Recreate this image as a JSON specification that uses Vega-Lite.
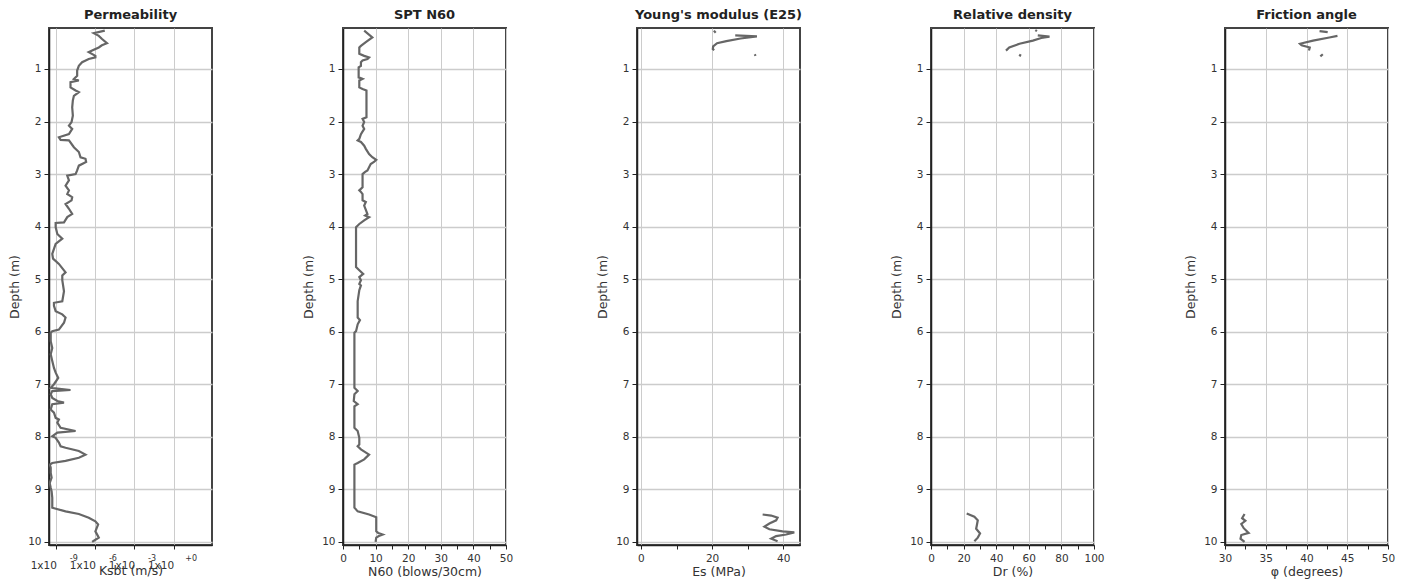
{
  "$schema": "https://vega.github.io/schema/vega-lite/v6.json",
  "padding": {"left": 7, "top": 8, "right": 5, "bottom": 5},
  "background": "white",
  "datasets": {
    "perm": [
      {"depth":0.27,"k":5.25e-6},{"depth":0.32,"k":7.59e-7},{"depth":0.37,"k":1.82e-6},{"depth":0.43,"k":3.24e-6},{"depth":0.51,"k":7.76e-6},{"depth":0.55,"k":3.16e-6},{"depth":0.59,"k":1.82e-6},{"depth":0.65,"k":5.62e-7},{"depth":0.68,"k":3.09e-7},{"depth":0.75,"k":1.0e-6},{"depth":0.78,"k":1.0e-6},{"depth":0.81,"k":3.09e-7},{"depth":0.87,"k":9.55e-8},{"depth":0.94,"k":5.37e-8},{"depth":1.03,"k":3.98e-8},{"depth":1.13,"k":3.98e-8},{"depth":1.19,"k":2.24e-8},{"depth":1.22,"k":5.37e-8},{"depth":1.25,"k":1.23e-8},{"depth":1.35,"k":1.23e-8},{"depth":1.41,"k":3.02e-8},{"depth":1.44,"k":5.37e-8},{"depth":1.51,"k":2.24e-8},{"depth":1.60,"k":1.86e-8},{"depth":1.73,"k":1.66e-8},{"depth":1.89,"k":1.86e-8},{"depth":2.01,"k":1.48e-8},{"depth":2.08,"k":9.33e-9},{"depth":2.14,"k":1.66e-8},{"depth":2.24,"k":9.33e-9},{"depth":2.30,"k":1.58e-9},{"depth":2.35,"k":2.14e-9},{"depth":2.36,"k":9.33e-9},{"depth":2.49,"k":2.24e-8},{"depth":2.58,"k":5.37e-8},{"depth":2.68,"k":7.24e-8},{"depth":2.71,"k":1.74e-7},{"depth":2.77,"k":1.95e-7},{"depth":2.84,"k":5.37e-8},{"depth":2.93,"k":3.98e-8},{"depth":3.00,"k":3.02e-8},{"depth":3.03,"k":6.92e-9},{"depth":3.12,"k":9.33e-9},{"depth":3.22,"k":5.13e-9},{"depth":3.31,"k":9.33e-9},{"depth":3.38,"k":6.92e-9},{"depth":3.44,"k":1.66e-8},{"depth":3.50,"k":1.48e-8},{"depth":3.57,"k":5.13e-9},{"depth":3.66,"k":9.33e-9},{"depth":3.76,"k":1.66e-8},{"depth":3.82,"k":6.92e-9},{"depth":3.92,"k":3.89e-9},{"depth":3.93,"k":8.91e-10},{"depth":4.01,"k":8.91e-10},{"depth":4.14,"k":1.20e-9},{"depth":4.23,"k":2.88e-9},{"depth":4.33,"k":8.91e-10},{"depth":4.52,"k":4.90e-10},{"depth":4.61,"k":5.62e-10},{"depth":4.71,"k":1.58e-9},{"depth":4.87,"k":5.13e-9},{"depth":4.93,"k":2.88e-9},{"depth":5.02,"k":2.88e-9},{"depth":5.23,"k":3.89e-9},{"depth":5.42,"k":2.88e-9},{"depth":5.45,"k":6.61e-10},{"depth":5.51,"k":6.61e-10},{"depth":5.61,"k":8.91e-10},{"depth":5.67,"k":2.88e-9},{"depth":5.73,"k":5.13e-9},{"depth":5.83,"k":3.89e-9},{"depth":5.96,"k":1.58e-9},{"depth":5.99,"k":4.90e-10},{"depth":6.02,"k":3.72e-10},{"depth":6.18,"k":3.72e-10},{"depth":6.31,"k":4.90e-10},{"depth":6.43,"k":3.72e-10},{"depth":6.56,"k":4.90e-10},{"depth":6.69,"k":6.61e-10},{"depth":6.78,"k":8.91e-10},{"depth":6.88,"k":1.41e-9},{"depth":7.00,"k":6.61e-10},{"depth":7.07,"k":3.72e-10},{"depth":7.11,"k":1.23e-8},{"depth":7.13,"k":4.90e-10},{"depth":7.19,"k":3.72e-10},{"depth":7.26,"k":4.90e-10},{"depth":7.32,"k":1.20e-9},{"depth":7.35,"k":3.89e-9},{"depth":7.38,"k":4.90e-10},{"depth":7.48,"k":3.72e-10},{"depth":7.54,"k":6.61e-10},{"depth":7.64,"k":8.91e-10},{"depth":7.67,"k":1.58e-9},{"depth":7.73,"k":1.20e-9},{"depth":7.83,"k":2.14e-9},{"depth":7.89,"k":3.02e-8},{"depth":7.92,"k":1.20e-9},{"depth":7.99,"k":4.90e-10},{"depth":8.02,"k":8.91e-10},{"depth":8.11,"k":1.58e-9},{"depth":8.18,"k":2.14e-9},{"depth":8.21,"k":5.13e-9},{"depth":8.27,"k":5.37e-8},{"depth":8.34,"k":1.74e-7},{"depth":8.40,"k":5.37e-8},{"depth":8.46,"k":5.13e-9},{"depth":8.50,"k":4.90e-10},{"depth":8.53,"k":3.16e-10},{"depth":8.59,"k":3.72e-10},{"depth":8.69,"k":3.72e-10},{"depth":8.78,"k":4.37e-10},{"depth":8.88,"k":3.09e-10},{"depth":8.97,"k":3.72e-10},{"depth":9.04,"k":4.37e-10},{"depth":9.16,"k":4.90e-10},{"depth":9.29,"k":4.90e-10},{"depth":9.35,"k":4.90e-10},{"depth":9.42,"k":5.13e-9},{"depth":9.47,"k":5.37e-8},{"depth":9.54,"k":3.09e-7},{"depth":9.61,"k":1.0e-6},{"depth":9.67,"k":1.62e-6},{"depth":9.80,"k":1.0e-6},{"depth":9.92,"k":1.82e-6},{"depth":9.96,"k":1.0e-6},{"depth":10.0,"k":5.62e-7}
    ],
    "spt": [
      {"depth":0.27,"n":6.5},{"depth":0.40,"n":9.0},{"depth":0.49,"n":7.0},{"depth":0.56,"n":5.5},{"depth":0.59,"n":5.0},{"depth":0.71,"n":5.0},{"depth":0.75,"n":6.5},{"depth":0.78,"n":8.0},{"depth":0.81,"n":7.5},{"depth":0.84,"n":6.0},{"depth":0.87,"n":5.5},{"depth":0.94,"n":5.5},{"depth":0.97,"n":4.8},{"depth":1.16,"n":4.8},{"depth":1.19,"n":6.0},{"depth":1.22,"n":5.0},{"depth":1.35,"n":5.0},{"depth":1.38,"n":6.0},{"depth":1.41,"n":7.2},{"depth":1.92,"n":7.2},{"depth":1.95,"n":6.0},{"depth":2.01,"n":6.5},{"depth":2.08,"n":6.0},{"depth":2.14,"n":6.5},{"depth":2.24,"n":5.5},{"depth":2.33,"n":5.0},{"depth":2.36,"n":4.5},{"depth":2.39,"n":5.5},{"depth":2.46,"n":6.5},{"depth":2.52,"n":7.0},{"depth":2.62,"n":8.0},{"depth":2.68,"n":9.0},{"depth":2.73,"n":10.2},{"depth":2.77,"n":9.5},{"depth":2.81,"n":8.5},{"depth":2.87,"n":8.0},{"depth":2.93,"n":7.5},{"depth":2.96,"n":6.8},{"depth":3.00,"n":6.0},{"depth":3.25,"n":6.0},{"depth":3.31,"n":5.0},{"depth":3.34,"n":5.5},{"depth":3.38,"n":6.0},{"depth":3.50,"n":6.0},{"depth":3.53,"n":7.0},{"depth":3.60,"n":6.5},{"depth":3.76,"n":7.5},{"depth":3.79,"n":6.8},{"depth":3.82,"n":8.0},{"depth":3.88,"n":6.5},{"depth":3.95,"n":5.0},{"depth":4.01,"n":4.0},{"depth":4.77,"n":4.0},{"depth":4.83,"n":5.0},{"depth":4.90,"n":6.2},{"depth":4.96,"n":5.0},{"depth":5.02,"n":5.5},{"depth":5.09,"n":5.0},{"depth":5.12,"n":5.5},{"depth":5.21,"n":5.0},{"depth":5.42,"n":4.5},{"depth":5.73,"n":4.5},{"depth":5.78,"n":5.2},{"depth":5.86,"n":4.5},{"depth":5.99,"n":4.0},{"depth":6.02,"n":3.5},{"depth":7.07,"n":3.5},{"depth":7.13,"n":4.5},{"depth":7.19,"n":3.5},{"depth":7.32,"n":3.3},{"depth":7.38,"n":4.5},{"depth":7.42,"n":3.5},{"depth":7.83,"n":3.5},{"depth":7.89,"n":4.5},{"depth":8.02,"n":5.0},{"depth":8.15,"n":5.0},{"depth":8.18,"n":4.5},{"depth":8.24,"n":5.5},{"depth":8.34,"n":8.0},{"depth":8.43,"n":6.5},{"depth":8.50,"n":4.5},{"depth":8.53,"n":3.5},{"depth":9.35,"n":3.5},{"depth":9.42,"n":4.5},{"depth":9.48,"n":8.0},{"depth":9.53,"n":10.2},{"depth":9.80,"n":10.2},{"depth":9.83,"n":10.8},{"depth":9.86,"n":12.2},{"depth":9.89,"n":11.0},{"depth":9.92,"n":10.2},{"depth":10.0,"n":10.0}
    ],
    "es": [
      {"seg":1,"depth":0.27,"e":20.5},{"seg":1,"depth":0.31,"e":21.0},
      {"seg":2,"depth":0.36,"e":26.5},{"seg":2,"depth":0.38,"e":32.6},{"seg":2,"depth":0.42,"e":28.0},{"seg":2,"depth":0.47,"e":24.0},{"seg":2,"depth":0.51,"e":21.4},{"seg":2,"depth":0.57,"e":20.3},{"seg":2,"depth":0.62,"e":20.2},{"seg":2,"depth":0.64,"e":20.6},
      {"seg":3,"depth":0.72,"e":32.0},{"seg":3,"depth":0.75,"e":32.2},
      {"seg":4,"depth":9.48,"e":34.2},{"seg":4,"depth":9.50,"e":36.6},{"seg":4,"depth":9.54,"e":38.4},{"seg":4,"depth":9.59,"e":38.0},{"seg":4,"depth":9.65,"e":36.1},{"seg":4,"depth":9.71,"e":34.7},{"seg":4,"depth":9.76,"e":36.1},{"seg":4,"depth":9.80,"e":39.8},{"seg":4,"depth":9.82,"e":43.1},{"seg":4,"depth":9.86,"e":40.8},{"seg":4,"depth":9.89,"e":38.0},{"seg":4,"depth":9.94,"e":36.6},{"seg":4,"depth":9.99,"e":38.4}
    ],
    "dr": [
      {"seg":1,"depth":0.26,"d":64.0},{"seg":1,"depth":0.28,"d":65.0},
      {"seg":2,"depth":0.36,"d":65.5},{"seg":2,"depth":0.385,"d":72.7},{"seg":2,"depth":0.41,"d":67.6},{"seg":2,"depth":0.46,"d":62.5},{"seg":2,"depth":0.52,"d":54.3},{"seg":2,"depth":0.59,"d":48.0},{"seg":2,"depth":0.65,"d":46.0},
      {"seg":3,"depth":0.72,"d":55.0},{"seg":3,"depth":0.76,"d":54.3},
      {"seg":4,"depth":9.46,"d":21.9},{"seg":4,"depth":9.52,"d":26.6},{"seg":4,"depth":9.59,"d":28.7},{"seg":4,"depth":9.69,"d":28.1},{"seg":4,"depth":9.75,"d":27.7},{"seg":4,"depth":9.84,"d":30.1},{"seg":4,"depth":9.92,"d":28.7},{"seg":4,"depth":9.99,"d":26.6}
    ],
    "phi": [
      {"seg":1,"depth":0.28,"p":41.6},{"seg":1,"depth":0.30,"p":42.6},
      {"seg":2,"depth":0.37,"p":43.8},{"seg":2,"depth":0.40,"p":42.8},{"seg":2,"depth":0.46,"p":40.8},{"seg":2,"depth":0.52,"p":39.2},{"seg":2,"depth":0.55,"p":39.4},{"seg":2,"depth":0.59,"p":40.4},{"seg":2,"depth":0.65,"p":40.3},
      {"seg":3,"depth":0.72,"p":42.0},{"seg":3,"depth":0.76,"p":41.7},
      {"seg":4,"depth":9.47,"p":32.4},{"seg":4,"depth":9.55,"p":32.1},{"seg":4,"depth":9.60,"p":32.5},{"seg":4,"depth":9.66,"p":32.0},{"seg":4,"depth":9.74,"p":32.3},{"seg":4,"depth":9.83,"p":32.9},{"seg":4,"depth":9.87,"p":32.0},{"seg":4,"depth":9.94,"p":31.9},{"seg":4,"depth":10.0,"p":32.4}
    ]
  },
  "hconcat": [
    {
      "width": 163, "height": 517,
      "title": "Permeability",
      "data": {"name": "perm"},
      "encoding": {
        "y": {"field": "depth", "type": "quantitative",
          "scale": {"domain": [0.22, 10.06], "reverse": true, "nice": false, "zero": false},
          "axis": {"title": "Depth (m)", "values": [1,2,3,4,5,6,7,8,9,10]}},
        "order": {"field": "depth", "type": "quantitative"}
      },
      "layer": [
        {
          "mark": {"type": "line", "color": "#666666", "strokeWidth": 2.2, "clip": true},
          "encoding": {
            "x": {"field": "k", "type": "quantitative",
              "scale": {"type": "log", "domain": [2.75e-10, 891], "nice": false},
              "axis": {"title": "Ksbt (m/s)", "orient": "bottom", "values": [1e-9, 1e-6, 1e-3, 1],
                "labelExpr": "'1x10'", "labelOffset": -13, "labelPadding": 11, "titlePadding": -6}}
          }
        },
        {
          "mark": {"type": "line", "opacity": 0, "clip": true},
          "encoding": {
            "x": {"field": "k", "type": "quantitative",
              "scale": {"type": "log", "domain": [2.75e-10, 891], "nice": false},
              "axis": {"title": null, "orient": "bottom", "values": [1e-9, 1e-6, 1e-3, 1],
                "labelExpr": "datum.value < 1e-8 ? '-9' : datum.value < 1e-5 ? '-6' : datum.value < 1e-2 ? '-3' : '+0'",
                "labelFontSize": 8, "labelOffset": 17, "labelPadding": 9,
                "domain": false, "ticks": false, "grid": false}}
          }
        }
      ],
      "resolve": {"axis": {"x": "independent"}}
    },
    {
      "width": 163, "height": 517,
      "title": "SPT N60",
      "data": {"name": "spt"},
      "mark": {"type": "line", "color": "#666666", "strokeWidth": 2.2, "clip": true},
      "encoding": {
        "x": {"field": "n", "type": "quantitative",
          "scale": {"domain": [0, 50], "nice": false},
          "axis": {"title": "N60 (blows/30cm)", "values": [0,5,10,15,20,25,30,35,40,45,50],
            "labelExpr": "datum.value % 10 === 0 ? datum.label : ''",
            "gridOpacity": {"condition": {"test": "datum.value % 10 !== 0", "value": 0}, "value": 1}}},
        "y": {"field": "depth", "type": "quantitative",
          "scale": {"domain": [0.22, 10.06], "reverse": true, "nice": false, "zero": false},
          "axis": {"title": "Depth (m)", "values": [1,2,3,4,5,6,7,8,9,10]}},
        "order": {"field": "depth", "type": "quantitative"}
      }
    },
    {
      "width": 163, "height": 517,
      "title": "Young's modulus (E25)",
      "data": {"name": "es"},
      "mark": {"type": "line", "color": "#666666", "strokeWidth": 2.2, "clip": true},
      "encoding": {
        "x": {"field": "e", "type": "quantitative",
          "scale": {"domain": [-1.1, 44.7], "nice": false, "zero": false},
          "axis": {"title": "Es (MPa)", "values": [0,10,20,30,40],
            "labelExpr": "datum.value % 20 === 0 ? datum.label : ''",
            "gridOpacity": {"condition": {"test": "datum.value % 20 !== 0", "value": 0}, "value": 1}}},
        "y": {"field": "depth", "type": "quantitative",
          "scale": {"domain": [0.22, 10.06], "reverse": true, "nice": false, "zero": false},
          "axis": {"title": "Depth (m)", "values": [1,2,3,4,5,6,7,8,9,10]}},
        "detail": {"field": "seg", "type": "nominal"},
        "order": {"field": "depth", "type": "quantitative"}
      }
    },
    {
      "width": 163, "height": 517,
      "title": "Relative density",
      "data": {"name": "dr"},
      "mark": {"type": "line", "color": "#666666", "strokeWidth": 2.2, "clip": true},
      "encoding": {
        "x": {"field": "d", "type": "quantitative",
          "scale": {"domain": [0, 100], "nice": false},
          "axis": {"title": "Dr (%)", "values": [0,10,20,30,40,50,60,70,80,90,100],
            "labelExpr": "datum.value % 20 === 0 ? datum.label : ''",
            "gridOpacity": {"condition": {"test": "datum.value % 20 !== 0", "value": 0}, "value": 1}}},
        "y": {"field": "depth", "type": "quantitative",
          "scale": {"domain": [0.22, 10.06], "reverse": true, "nice": false, "zero": false},
          "axis": {"title": "Depth (m)", "values": [1,2,3,4,5,6,7,8,9,10]}},
        "detail": {"field": "seg", "type": "nominal"},
        "order": {"field": "depth", "type": "quantitative"}
      }
    },
    {
      "width": 163, "height": 517,
      "title": "Friction angle",
      "data": {"name": "phi"},
      "mark": {"type": "line", "color": "#666666", "strokeWidth": 2.2, "clip": true},
      "encoding": {
        "x": {"field": "p", "type": "quantitative",
          "scale": {"domain": [30, 50], "nice": false, "zero": false},
          "axis": {"title": "φ (degrees)", "values": [30,32.5,35,37.5,40,42.5,45,47.5,50],
            "labelExpr": "datum.value % 5 === 0 ? datum.label : ''",
            "gridOpacity": {"condition": {"test": "datum.value % 5 !== 0", "value": 0}, "value": 1}}},
        "y": {"field": "depth", "type": "quantitative",
          "scale": {"domain": [0.22, 10.06], "reverse": true, "nice": false, "zero": false},
          "axis": {"title": "Depth (m)", "values": [1,2,3,4,5,6,7,8,9,10]}},
        "detail": {"field": "seg", "type": "nominal"},
        "order": {"field": "depth", "type": "quantitative"}
      }
    }
  ],
  "spacing": 131,
  "bounds": "flush",
  "config": {
    "font": "DejaVu Sans",
    "view": {"stroke": "#444444", "strokeWidth": 2},
    "title": {"fontSize": 13, "fontWeight": "bold", "color": "#222222", "offset": 6},
    "axis": {"labelFontSize": 10.5, "labelColor": "#333333", "titleFontSize": 12.5, "titleFontWeight": "normal", "titleColor": "#333333", "domainColor": "#222222", "domainWidth": 1.5, "tickColor": "#222222", "gridColor": "#cccccc", "labelFlush": false, "labelOverlap": false},
    "axisY": {"gridWidth": 1.5, "tickSize": 5, "labelPadding": 3, "titlePadding": 6},
    "axisX": {"gridWidth": 1, "tickSize": 4, "labelPadding": 4, "titlePadding": 2}
  }
}
